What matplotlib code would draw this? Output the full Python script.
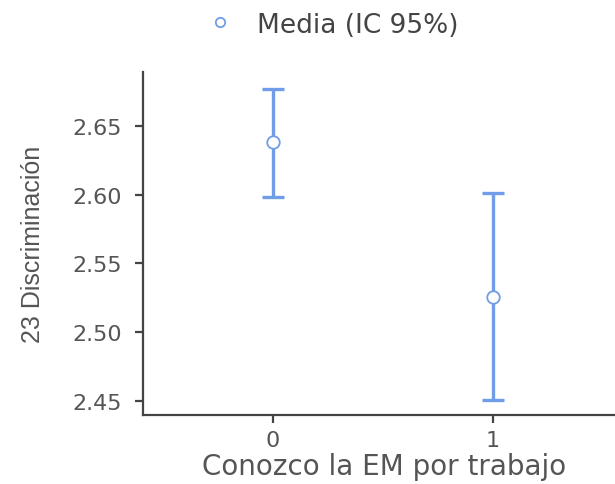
import matplotlib.pyplot as plt
from matplotlib import font_manager

# Mean and 95% CI of "23 Discriminación" by group
groups = ["0", "1"]
means = [2.638, 2.526]
ci_low = [2.598, 2.451]
ci_high = [2.677, 2.601]

blue = "#6f9de8"
grey = "#555555"

available = {f.name for f in font_manager.fontManager.ttflist}
narrow = "Liberation Sans Narrow" if "Liberation Sans Narrow" in available else "Liberation Sans"
plt.rcParams["font.family"] = ["DejaVu Sans"]

fig = plt.figure(figsize=(6.15, 4.85), dpi=100)
ax = fig.add_axes([143 / 615, 1 - 416 / 485, (625 - 143) / 615, (416 - 73) / 485])

x = list(range(len(groups)))
yerr = [[m - lo for m, lo in zip(means, ci_low)],
        [hi - m for m, hi in zip(means, ci_high)]]
ax.errorbar(x, means, yerr=yerr, fmt="none", ecolor=blue, elinewidth=2.4,
            capsize=8, capthick=2.4, zorder=2)
ax.plot(x, means, "o", ms=9, mfc="white", mec=blue, mew=1.3,
        linestyle="none", label="Media (IC 95%)", zorder=3)

ax.set_xlim(-0.59, 1.60)
ax.set_ylim(2.440, 2.689)
ax.set_xticks(x)
ax.set_xticklabels(groups)
ax.set_yticks([2.45, 2.50, 2.55, 2.60, 2.65])
ax.set_yticklabels(["2.45", "2.50", "2.55", "2.60", "2.65"])

for side in ["top", "right"]:
    ax.spines[side].set_visible(False)
for side in ["left", "bottom"]:
    ax.spines[side].set_color("#444444")
    ax.spines[side].set_linewidth(1.6)
ax.tick_params(axis="both", colors="#444444", width=1.6, length=6,
               labelsize=16, labelcolor=grey)
ax.tick_params(axis="y", pad=9)
ax.tick_params(axis="x", pad=5)

ax.set_xlabel("Conozco la EM por trabajo", fontsize=20, color=grey)
ax.xaxis.set_label_coords(0.5, -0.108)
ax.set_ylabel("23 Discriminación", fontsize=18, color=grey, family=narrow, labelpad=20)

fig.legend(loc="center", bbox_to_anchor=(0.538, 0.947), frameon=False,
           fontsize=19, labelcolor="#444444", handletextpad=0.8,
           markerscale=0.75, handlelength=1.2)

fig.savefig("out.png", dpi=100)
